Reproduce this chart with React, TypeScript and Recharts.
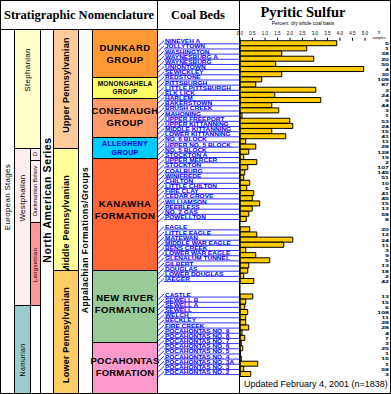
import { BarChart, Bar, XAxis, YAxis } from "recharts";

// coal beds, top to bottom ("" = blank row between formations)
const beds = [
  "NINEVEH A", "JOLLYTOWN", "WASHINGTON", "WAYNESBURG A", "WAYNESBURG", "UNIONTOWN",
  "SEWICKLEY", "REDSTONE", "PITTSBURGH", "LITTLE PITTSBURGH", "ELK LICK", "HARLEM",
  "BAKERSTOWN", "BRUSH CREEK", "MAHONING", "UPPER FREEPORT", "UPPER KITTANNING",
  "MIDDLE KITTANNING", "LOWER KITTANNING", "NO. 6 BLOCK", "UPPER NO. 5 BLOCK", "NO. 5 BLOCK",
  "STOCKTON A", "UPPER MERCER", "STOCKTON", "COALBURG", "WINIFREDE", "CHILTON",
  "LITTLE CHILTON", "FIRE CLAY", "CEDAR GROVE", "WILLIAMSON", "PEERLESS", "NO. 2 GAS",
  "POWELLTON", "",
  "EAGLE", "LITTLE EAGLE", "MATEWAN", "MIDDLE WAR EAGLE", "BENS CREEK", "LOWER WAR EAGLE",
  "GLENALUM TUNNEL", "GILBERT", "DOUGLAS", "LOWER DOUGLAS", "IAEGER", "", "",
  "CASTLE", "SEWELL B", "SEWELL A", "SEWELL", "WELCH", "BECKLEY", "FIRE CREEK",
  "POCAHONTAS NO. 9", "POCAHONTAS NO. 8", "POCAHONTAS NO. 7", "POCAHONTAS NO. 6",
  "POCAHONTAS NO. 5", "POCAHONTAS NO. 4", "POCAHONTAS NO. 3A", "POCAHONTAS NO. 3",
  "POCAHONTAS NO. 2",
];

// pyritic sulfur, percent dry whole coal basis
const sulfur = [
  3.87, 2.67, 1.67, 2.95, 1.43, 4.95,
  1.67, 0.87, 0.63, 3.03, 1.39, 3.23,
  1.27, 1.55, 0.08, 1.99, 2.11,
  1.27, 1.83, 0.23, 0.63, 0.35,
  0.15, 0.67, 0.31, 0.19, 0.15, 0.39,
  0.27, 0.55, 0.49, 0.79, 0.49, 0.35,
  0.25, null,
  0.39, 0.67, 2.11, 1.75, 0.23, 0.63,
  1.19, 0.35, 0.31, 0.15, 0.55, null, null,
  0.51, 0.23, 0.19, 0.31, 0.23, 0.23, 0.35,
  0.08, 0.19, 0.05, 0.11,
  0.02, 0.05, 0.71, 0.15,
  0.43,
];

// number of samples
const samples = [
  5, 1, 38, 20, 50, 4,
  30, 108, 87, 3, 24, 9,
  44, 3, 1, 53, 24,
  15, 41, 11, 28, 128,
  19, 2, 107, 145, 51, 10,
  5, 41, 45, 15, 13, 58,
  8, null,
  20, 12, 24, 11, 3, 9,
  5, 13, 18, 2, 42, null, null,
  13, 15, 6, 108, 11, 28, 28,
  4, 7, 3, 25,
  1, 15, 1, 58,
  3,
];

const sulfurTicks = [0, 0.5, 1, 1.5, 2, 2.5, 3, 3.5, 4, 4.5, 5];

const rows = beds.map((bed, i) => ({ key: String(i), sulfur: sulfur[i] }));

const BLUE = "#0000ff";
const SANS = "'Liberation Sans', Arial, sans-serif";
const SERIF = "'Liberation Serif', 'Times New Roman', serif";

// squash text vertically around its baseline
const squash = (y: number, k: number) => `translate(0 ${y}) scale(1 ${k}) translate(0 ${-y})`;

function BedTick(props: any) {
  const { y, payload } = props;
  const name = beds[Number(payload.value)];
  if (!name) return null;
  return (
    <g>
      <line x1={158} y1={y + 3} x2={164} y2={y - 2.5} stroke={BLUE} strokeWidth={0.8} />
      <line x1={164} y1={y + 0.5} x2={239} y2={y + 0.5} stroke={BLUE} strokeWidth={0.8} />
      <text x={165} y={y} fill={BLUE} fontSize={6.5} fontWeight="bold" fontFamily={SANS} transform={squash(y, 0.68)}>
        {name}
      </text>
    </g>
  );
}

function SampleTick(props: any) {
  const { y, payload } = props;
  const n = samples[Number(payload.value)];
  if (n == null) return null;
  const by = y + 1.8;
  return (
    <text x={389} y={by} textAnchor="end" fontSize={7} fontWeight="bold" fontFamily={SANS} fill="#000" transform={squash(by, 0.62)}>
      {n}
    </text>
  );
}

function SulfurTick(props: any) {
  const { x, y, payload } = props;
  return (
    <text x={x} y={y - 1} textAnchor="middle" fontSize={4.5} fontFamily={SANS} fill="#000">
      {Number(payload.value).toFixed(1)}
    </text>
  );
}

type Box = { x: number; y: number; w: number; h: number; fill: string };

function VText({ x, y, size, text, bold = true, spacing = 0 }: { x: number; y: number; size: number; text: string; bold?: boolean; spacing?: number }) {
  return (
    <text
      x={x}
      y={y}
      transform={`rotate(-90 ${x} ${y})`}
      textAnchor="middle"
      dominantBaseline="central"
      fontSize={size}
      fontWeight={bold ? "bold" : "normal"}
      fontFamily={SANS}
      letterSpacing={spacing}
      fill="#000"
    >
      {text}
    </text>
  );
}

function Rect({ x, y, w, h, fill }: Box) {
  return <rect x={x + 0.5} y={y + 0.5} width={w} height={h} fill={fill} stroke="#000" strokeWidth={1} />;
}

function Unit({ y, lines, color = "#000", size = 9.5, spacing = 0.4 }: { y: number; lines: string[]; color?: string; size?: number; spacing?: number }) {
  return (
    <text x={125} y={y} textAnchor="middle" fontSize={size} fontWeight="bold" fontFamily={SANS} fill={color} letterSpacing={spacing}>
      {lines.map((l, i) => (
        <tspan key={l} x={125} dy={i === 0 ? 0 : size * 1.3}>
          {l}
        </tspan>
      ))}
    </text>
  );
}

function Stratigraphy() {
  return (
    <svg width={391} height={394} style={{ position: "absolute", left: 0, top: 0 }}>
      <rect x={0.5} y={0.5} width={390} height={393} fill="#fff" stroke="#000" />
      <line x1={0} y1={29.5} x2={240} y2={29.5} stroke="#000" />
      <line x1={157.5} y1={0} x2={157.5} y2={394} stroke="#000" />
      <line x1={239.5} y1={0} x2={239.5} y2={394} stroke="#000" />

      <text x={79} y={19} textAnchor="middle" fontSize={12.5} fontWeight="bold" fontFamily={SERIF}>
        Stratigraphic Nomenclature
      </text>
      <text x={198} y={19} textAnchor="middle" fontSize={12.5} fontWeight="bold" fontFamily={SERIF}>
        Coal Beds
      </text>
      <text x={303} y={16.5} textAnchor="middle" fontSize={14.5} fontWeight="bold" fontFamily={SERIF}>
        Pyritic Sulfur
      </text>
      <text x={303} y={24.5} textAnchor="middle" fontSize={4.8} fontFamily={SANS}>
        Percent, dry whole coal basis
      </text>
      <text x={379} y={34} textAnchor="middle" fontSize={4.5} fontFamily={SANS}>n</text>
      <text x={379} y={38.5} textAnchor="middle" fontSize={3.5} fontFamily={SANS}>samples</text>

      {/* European stages */}
      <Rect x={0} y={29} w={14} h={364} fill="#fff" />
      <VText x={7.5} y={197} size={8} text="European Stages" spacing={0.3} bold={false} />
      <Rect x={14} y={29} w={26} h={119} fill="#ffffcc" />
      <VText x={27} y={70} size={8} text="Stephanian" spacing={0.3} bold={false} />
      <Rect x={14} y={148} w={16} h={157} fill="#ffeef0" />
      <VText x={22} y={198} size={8} text="Westphalian" spacing={0.3} bold={false} />
      <Rect x={30} y={148} w={10} h={12} fill="#ffeef0" />
      <VText x={35} y={154} size={6} text="D" bold={false} />
      <Rect x={30} y={160} w={10} h={62} fill="#ffeef0" />
      <VText x={35} y={191} size={5.5} text="Duckmantian Bolsov" bold={false} />
      <Rect x={30} y={222} w={10} h={83} fill="#ff9999" />
      <VText x={35} y={265} size={6} text="Langsettian" spacing={0.3} bold={false} />
      <Rect x={14} y={305} w={16} h={88} fill="#99cccc" />
      <VText x={22} y={360} size={7} text="Namurian" spacing={0.3} bold={false} />
      <Rect x={30} y={305} w={10} h={88} fill="#fff" />

      {/* North American series */}
      <Rect x={40} y={29} w={13} h={364} fill="#fff" />
      <VText x={47} y={200} size={10.5} text="North American Series" spacing={0.6} />
      <Rect x={53} y={29} w={25} h={119} fill="#ffcc99" />
      <VText x={66} y={85} size={9} text="Upper Pennsylvanian" spacing={0.2} />
      <Rect x={53} y={148} w={25} h={122} fill="#ffff99" />
      <VText x={66} y={224} size={9} text="Middle Pennsylvanian" spacing={0.2} />
      <Rect x={53} y={270} w={25} h={123} fill="#ffcc66" />
      <VText x={66} y={335} size={9} text="Lower Pennsylvanian" spacing={0.2} />

      {/* Appalachian formations */}
      <Rect x={78} y={29} w={14} h={364} fill="#fff" />
      <VText x={85} y={240} size={8.5} text="Appalachian Formations/Groups" spacing={0.5} />
      <Rect x={92} y={29} w={65} h={48} fill="#ff9933" />
      <Unit y={51} lines={["DUNKARD", "GROUP"]} />
      <Rect x={92} y={77} w={65} h={21} fill="#ffff66" />
      <Unit y={85.5} lines={["MONONGAHELA", "GROUP"]} size={6.5} spacing={0.2} />
      <Rect x={92} y={98} w={65} h={39} fill="#ff9966" />
      <Unit y={114} lines={["CONEMAUGH", "GROUP"]} />
      <Rect x={92} y={137} w={65} h={21} fill="#00ccff" />
      <Unit y={146} lines={["ALLEGHENY", "GROUP"]} color="#0000cc" size={7} spacing={0.3} />
      <Rect x={92} y={158} w={65} h={112} fill="#ff6633" />
      <Unit y={207} lines={["KANAWHA", "FORMATION"]} />
      <Rect x={92} y={270} w={65} h={72} fill="#99cc99" />
      <Unit y={301} lines={["NEW RIVER", "FORMATION"]} />
      <Rect x={92} y={342} w={65} h={51} fill="#ff99cc" />
      <Unit y={364} lines={["POCAHONTAS", "FORMATION"]} spacing={0.2} />

      <text x={244} y={387} fontSize={9} fontFamily={SANS} fill="#000">
        Updated February 4, 2001 (n=1838)
      </text>
    </svg>
  );
}

export default function App() {
  return (
    <div style={{ position: "fixed", left: 0, top: 0, width: 391, height: 394, background: "#fff" }}>
      <Stratigraphy />
      <div style={{ position: "absolute", left: 0, top: 0 }}>
        <BarChart
          width={391}
          height={394}
          data={rows}
          layout="vertical"
          barCategoryGap={0}
          margin={{ top: 30, right: 0, bottom: 17.3, left: 0 }}
        >
          <XAxis
            type="number"
            orientation="top"
            domain={[0, 5]}
            ticks={sulfurTicks}
            height={10.7}
            axisLine={false}
            tickSize={3}
            tickLine={{ stroke: "#000" }}
            tick={<SulfurTick />}
            interval={0}
          />
          <YAxis
            yAxisId="bed"
            type="category"
            dataKey="key"
            width={240}
            interval={0}
            tickLine={false}
            axisLine={{ stroke: "#000" }}
            tick={<BedTick />}
          />
          <YAxis
            yAxisId="n"
            orientation="right"
            type="category"
            dataKey="key"
            width={26}
            interval={0}
            tickLine={false}
            axisLine={false}
            tick={<SampleTick />}
          />
          <Bar
            yAxisId="bed"
            dataKey="sulfur"
            fill="#ffcc00"
            stroke="#000"
            strokeWidth={1}
            isAnimationActive={false}
          />
        </BarChart>
      </div>
    </div>
  );
}
